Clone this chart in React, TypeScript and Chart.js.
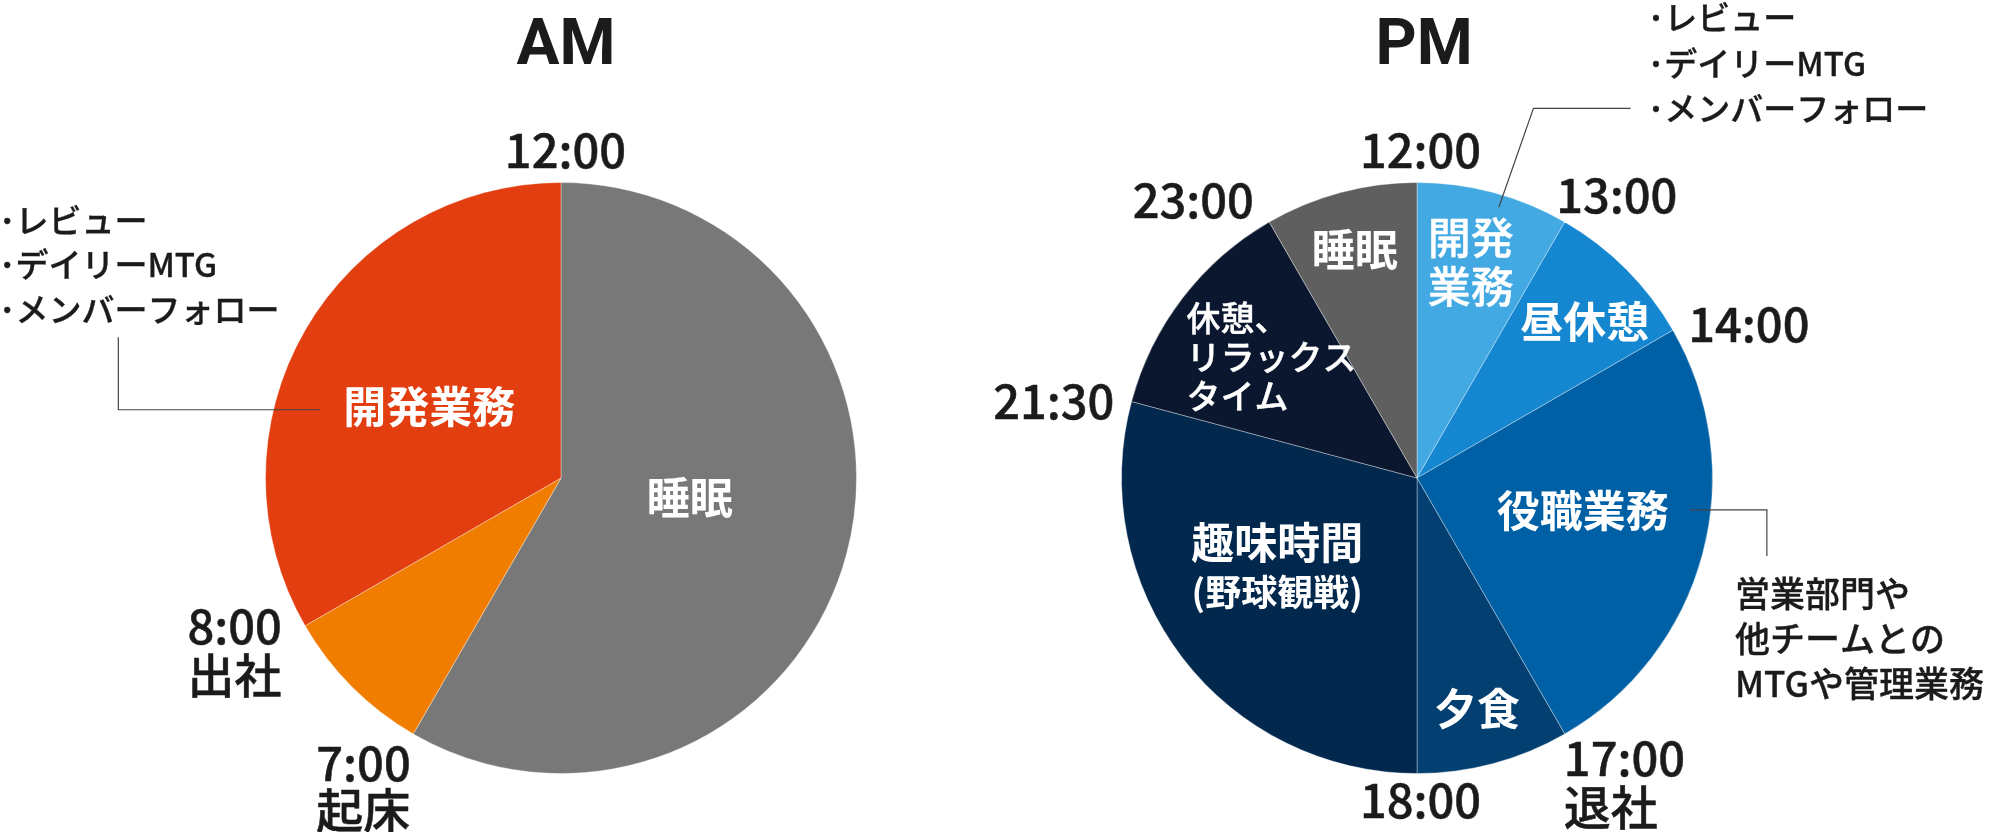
import React, { useEffect, useRef } from "react";
import { Chart, registerables } from "chart.js";

Chart.register(...registerables);

// ---- data ----
const amCategories = ["睡眠", "起床", "開発業務"];
const amHours = [7, 1, 4];
const amColors = ["#787878", "#F07D00", "#E23E10"];

const pmCategories = ["開発業務", "昼休憩", "役職業務", "夕食", "趣味時間", "休憩、リラックスタイム", "睡眠"];
const pmHours = [1, 1, 3, 1, 3.5, 1.5, 1];
const pmColors = ["#43A9E3", "#1587D0", "#0060A6", "#033F70", "#02284E", "#0A172E", "#5F5F5F"];

const amTimeTicks = ["12:00", "8:00", "7:00"];
const pmTimeTicks = ["12:00", "13:00", "14:00", "17:00", "18:00", "21:30", "23:00"];

const amNote = ["･レビュー", "･デイリーMTG", "･メンバーフォロー"];
const pmNoteTop = ["･レビュー", "･デイリーMTG", "･メンバーフォロー"];
const pmNoteRight = ["営業部門や", "他チームとの", "MTGや管理業務"];

const FONT = '"Noto Sans CJK JP", "Noto Sans", sans-serif';
const TITLE_FONT = 'Roboto, "Noto Sans CJK JP", sans-serif';
const INK = "#1b1b1b";

type Label = {
  lines: string[];
  fx: number; // offset from centre in radius units
  fy: number; // y of first line centre in radius units
  lh?: number; // line height in radius units
  align?: CanvasTextAlign;
  size: number;
  weight: number;
  color: string;
  stroke?: number;
  family?: string;
};

type Leader = { pts: [number, number][] };

const amLabels: Label[] = [
  { lines: ["AM"], fx: 0.017, fy: -1.456, size: 64, weight: 700, color: INK, family: TITLE_FONT },
  { lines: [amTimeTicks[0]], fx: 0.015, fy: -1.11, size: 47, weight: 500, color: INK, stroke: 0.5 },
  { lines: [amTimeTicks[1], "出社"], fx: -1.264, fy: 0.502, lh: 0.164, align: "left", size: 47, weight: 500, color: INK, stroke: 0.5 },
  { lines: [amTimeTicks[2], "起床"], fx: -0.828, fy: 0.965, lh: 0.158, align: "left", size: 47, weight: 500, color: INK, stroke: 0.5 },
  { lines: amNote, fx: -1.902, fy: -0.872, lh: 0.150, align: "left", size: 33, weight: 500, color: INK, stroke: 0.35 },
  { lines: [amCategories[2]], fx: -0.446, fy: -0.24, size: 43, weight: 700, color: "#ffffff" },
  { lines: [amCategories[0]], fx: 0.436, fy: 0.068, size: 43, weight: 700, color: "#ffffff" },
];
const amLeaders: Leader[] = [
  { pts: [[-1.498, -0.476], [-1.498, -0.231], [-0.816, -0.231]] },
];

const pmLabels: Label[] = [
  { lines: ["PM"], fx: 0.024, fy: -1.456, size: 64, weight: 700, color: INK, family: TITLE_FONT },
  { lines: [pmTimeTicks[0]], fx: 0.012, fy: -1.11, size: 47, weight: 500, color: INK, stroke: 0.5 },
  { lines: [pmTimeTicks[1]], fx: 0.676, fy: -0.958, size: 47, weight: 500, color: INK, stroke: 0.5 },
  { lines: [pmTimeTicks[2]], fx: 1.123, fy: -0.519, size: 47, weight: 500, color: INK, stroke: 0.5 },
  { lines: [pmTimeTicks[3], "退社"], fx: 0.497, fy: 0.949, lh: 0.164, align: "left", size: 47, weight: 500, color: INK, stroke: 0.5 },
  { lines: [pmTimeTicks[4]], fx: 0.012, fy: 1.091, size: 47, weight: 500, color: INK, stroke: 0.5 },
  { lines: [pmTimeTicks[5]], fx: -1.024, fy: -0.26, align: "right", size: 47, weight: 500, color: INK, stroke: 0.5 },
  { lines: [pmTimeTicks[6]], fx: -0.757, fy: -0.939, size: 47, weight: 500, color: INK, stroke: 0.5 },
  { lines: pmNoteTop, fx: 0.781, fy: -1.557, lh: 0.154, align: "left", size: 33, weight: 500, color: INK, stroke: 0.35 },
  { lines: pmNoteRight, fx: 1.076, fy: 0.39, lh: 0.153, align: "left", size: 35, weight: 500, color: INK, stroke: 0.35 },
  { lines: ["開発", "業務"], fx: 0.182, fy: -0.815, lh: 0.168, size: 43, weight: 500, color: "#ffffff", stroke: 0.4 },
  { lines: [pmCategories[1]], fx: 0.568, fy: -0.53, size: 43, weight: 700, color: "#ffffff" },
  { lines: [pmCategories[2]], fx: 0.561, fy: 0.111, size: 43, weight: 700, color: "#ffffff" },
  { lines: [pmCategories[3]], fx: 0.203, fy: 0.782, size: 43, weight: 700, color: "#ffffff" },
  { lines: [pmCategories[4]], fx: -0.473, fy: 0.22, size: 43, weight: 700, color: "#ffffff" },
  { lines: ["(野球観戦)"], fx: -0.473, fy: 0.387, size: 36, weight: 700, color: "#ffffff" },
  { lines: ["休憩、", "リラックス", "タイム"], fx: -0.78, fy: -0.541, lh: 0.132, align: "left", size: 34, weight: 500, color: "#ffffff", stroke: 0.4 },
  { lines: [pmCategories[6]], fx: -0.211, fy: -0.772, size: 43, weight: 700, color: "#ffffff" },
];
const pmLeaders: Leader[] = [
  { pts: [[0.723, -1.251], [0.394, -1.251], [0.277, -0.916]] },
  { pts: [[0.925, 0.108], [1.184, 0.108], [1.184, 0.264]] },
];

function makeLabelPlugin(labels: Label[], leaders: Leader[]) {
  return {
    id: "pieLabels",
    afterDraw(chart: any) {
      const arc = chart.getDatasetMeta(0).data[0];
      if (!arc) return;
      const cx = arc.x;
      const cy = arc.y;
      const r = arc.outerRadius;
      const ctx: CanvasRenderingContext2D = chart.ctx;
      ctx.save();
      ctx.strokeStyle = "#444";
      ctx.lineWidth = 1.2;
      for (const ld of leaders) {
        ctx.beginPath();
        ld.pts.forEach(([fx, fy], i) => {
          const x = cx + fx * r;
          const y = cy + fy * r;
          if (i === 0) ctx.moveTo(x, y);
          else ctx.lineTo(x, y);
        });
        ctx.stroke();
      }
      ctx.textBaseline = "middle";
      ctx.lineJoin = "round";
      for (const lb of labels) {
        ctx.font = `${lb.weight} ${lb.size}px ${lb.family || FONT}`;
        ctx.fillStyle = lb.color;
        ctx.strokeStyle = lb.color;
        ctx.textAlign = lb.align || "center";
        lb.lines.forEach((t, i) => {
          const x = cx + lb.fx * r;
          const y = cy + (lb.fy + i * (lb.lh || 0)) * r;
          ctx.fillText(t, x, y);
          if (lb.stroke) {
            ctx.lineWidth = lb.stroke;
            ctx.strokeText(t, x, y);
          }
        });
      }
      ctx.restore();
    },
  };
}

function PieCanvas(props: {
  left: number;
  width: number;
  categories: string[];
  values: number[];
  colors: string[];
  padding: { left: number; right: number; top: number; bottom: number };
  labels: Label[];
  leaders: Leader[];
}) {
  const ref = useRef<HTMLCanvasElement | null>(null);
  useEffect(() => {
    if (!ref.current) return;
    const chart = new Chart(ref.current, {
      type: "pie",
      data: {
        labels: props.categories,
        datasets: [
          {
            data: props.values,
            backgroundColor: props.colors,
            borderColor: "rgba(255,255,255,0.35)",
            borderWidth: 1,
          },
        ],
      },
      options: {
        responsive: false,
        animation: false,
        devicePixelRatio: 1,
        layout: { padding: props.padding },
        plugins: { legend: { display: false }, tooltip: { enabled: false } },
        events: [],
      },
      plugins: [makeLabelPlugin(props.labels, props.leaders)],
    } as any);
    return () => chart.destroy();
  }, []);
  return (
    <canvas
      ref={ref}
      width={props.width}
      height={832}
      style={{ position: "absolute", left: props.left, top: 0, width: props.width, height: 832 }}
    />
  );
}

export default function App() {
  return (
    <div style={{ position: "absolute", left: 0, top: 0, width: 2004, height: 832, background: "#ffffff", overflow: "hidden" }}>
      <PieCanvas
        left={0}
        width={900}
        categories={amCategories}
        values={amHours}
        colors={amColors}
        padding={{ left: 265, right: 43, top: 182, bottom: 58 }}
        labels={amLabels}
        leaders={amLeaders}
      />
      <PieCanvas
        left={900}
        width={1104}
        categories={pmCategories}
        values={pmHours}
        colors={pmColors}
        padding={{ left: 221, right: 291, top: 182, bottom: 58 }}
        labels={pmLabels}
        leaders={pmLeaders}
      />
    </div>
  );
}
